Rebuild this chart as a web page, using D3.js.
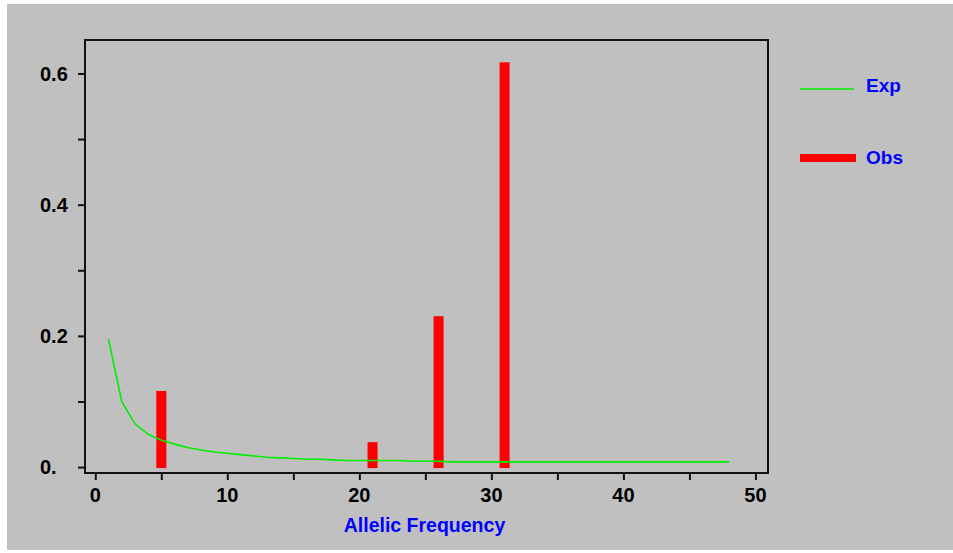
<!DOCTYPE html>
<html>
<head>
<meta charset="utf-8">
<script src="https://cdn.jsdelivr.net/npm/d3@7"></script>
<style>
	body { margin: 0; background: #ffffff; }
	svg { display: block; }
	text { font-family: "Liberation Sans", Arial, sans-serif; font-weight: bold; }
</style>
</head>
<body>
<svg id="chart" width="953" height="553"></svg>
<script>
// observed allele frequency bars
const obsAlleles = [5, 21, 26, 31];
const obsValues = [0.116, 0.038, 0.230, 0.617];

// expected curve, one point per allele count 1..48
const expAlleles = [1, 2, 3, 4, 5, 6, 7, 8, 9, 10, 11, 12, 13, 14, 15, 16,
	17, 18, 19, 20, 21, 22, 23, 24, 25, 26, 27, 28, 29, 30, 31, 32,
	33, 34, 35, 36, 37, 38, 39, 40, 41, 42, 43, 44, 45, 46, 47, 48];
const expValues = [0.195, 0.100, 0.066, 0.050, 0.041, 0.035, 0.030, 0.026,
	0.023, 0.021, 0.019, 0.017, 0.015, 0.014, 0.013, 0.012,
	0.012, 0.011, 0.010, 0.010, 0.010, 0.010, 0.010, 0.009,
	0.009, 0.009, 0.008, 0.008, 0.008, 0.008, 0.008, 0.008,
	0.008, 0.008, 0.008, 0.008, 0.008, 0.008, 0.008, 0.008,
	0.008, 0.008, 0.008, 0.008, 0.008, 0.008, 0.008, 0.008];

const xTicks = [0, 5, 10, 15, 20, 25, 30, 35, 40, 45, 50];
const xTickLabels = ["0", "", "10", "", "20", "", "30", "", "40", "", "50"];
const yTicks = [0, 0.1, 0.2, 0.3, 0.4, 0.5, 0.6];
const yTickLabels = ["0.", "", "0.2", "", "0.4", "", "0.6"];

const legendNames = ["Exp", "Obs"];
const xTitle = "Allelic Frequency";

const svg = d3.select("#chart");

// grey window background
svg.append("rect")
	.attr("x", 7).attr("y", 4)
	.attr("width", 946).attr("height", 546)
	.attr("fill", "#c0c0c0");

const frame = {left: 85, top: 40, right: 768, bottom: 473};

const x = d3.scaleLinear()
	.domain([-0.78, 50.95])
	.range([frame.left, frame.right]);
const y = d3.scaleLinear()
	.domain([-0.009, 0.651])
	.range([frame.bottom, frame.top]);

// plot frame
svg.append("rect")
	.attr("x", frame.left).attr("y", frame.top)
	.attr("width", frame.right - frame.left)
	.attr("height", frame.bottom - frame.top)
	.attr("fill", "none")
	.attr("stroke", "#111")
	.attr("stroke-width", 2);

// axes (ticks only, labels drawn separately)
const yAxis = d3.axisLeft(y).tickValues(yTicks).tickSize(7).tickFormat("");
const xAxis = d3.axisBottom(x).tickValues(xTicks).tickSize(7).tickFormat("");

const gy = svg.append("g")
	.attr("transform", `translate(${frame.left},0)`)
	.call(yAxis);
const gx = svg.append("g")
	.attr("transform", `translate(0,${frame.bottom})`)
	.call(xAxis);
[gy, gx].forEach(g => {
	g.select(".domain").remove();
	g.selectAll(".tick line").attr("stroke", "#111").attr("stroke-width", 2);
});

// y labels are left aligned in the original
svg.append("g").selectAll("text")
	.data(yTicks)
	.join("text")
	.attr("x", 40)
	.attr("y", d => y(d))
	.attr("dy", "0.36em")
	.attr("font-size", 20)
	.attr("fill", "#000")
	.text((d, i) => yTickLabels[i]);

svg.append("g").selectAll("text")
	.data(xTicks)
	.join("text")
	.attr("x", d => x(d))
	.attr("y", 502)
	.attr("text-anchor", "middle")
	.attr("font-size", 20)
	.attr("fill", "#000")
	.text((d, i) => xTickLabels[i]);

svg.append("text")
	.attr("x", (frame.left + frame.right) / 2 - 2)
	.attr("y", 532)
	.attr("text-anchor", "middle")
	.attr("font-size", 19.5)
	.attr("fill", "#0000ff")
	.text(xTitle);

// bars
const barHalf = 0.38;
svg.append("g").selectAll("rect")
	.data(obsAlleles)
	.join("rect")
	.attr("x", d => x(d - barHalf))
	.attr("width", d => x(d + barHalf) - x(d - barHalf))
	.attr("y", (d, i) => y(obsValues[i]))
	.attr("height", (d, i) => y(0) - y(obsValues[i]) + 1)
	.attr("fill", "#ff0000");

// expected line on top
const line = d3.line()
	.x(d => x(d))
	.y((d, i) => y(expValues[i]));
svg.append("path")
	.datum(expAlleles)
	.attr("d", line)
	.attr("fill", "none")
	.attr("stroke", "#00ee00")
	.attr("stroke-width", 1.6);

// legend
const legend = svg.append("g");
legend.append("line")
	.attr("x1", 800).attr("x2", 854)
	.attr("y1", 89).attr("y2", 89)
	.attr("stroke", "#00ee00")
	.attr("stroke-width", 1.6);
legend.append("rect")
	.attr("x", 800).attr("y", 154)
	.attr("width", 56).attr("height", 8)
	.attr("fill", "#ff0000");
legend.selectAll("text")
	.data(legendNames)
	.join("text")
	.attr("x", 866)
	.attr("y", (d, i) => i === 0 ? 92 : 164)
	.attr("font-size", 19)
	.attr("fill", "#0000ff")
	.text(d => d);
</script>
</body>
</html>
